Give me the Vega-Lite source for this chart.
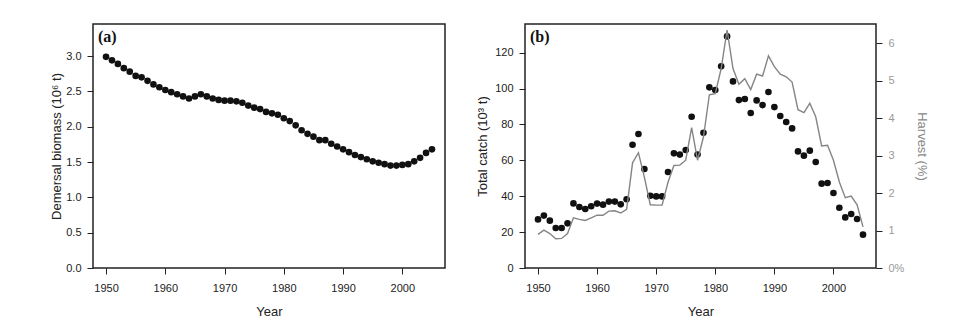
{
  "$schema": "https://vega.github.io/schema/vega-lite/v6.json",
  "padding": {"left": 49, "top": 23, "right": 5, "bottom": 5},
  "background": "white",
  "bounds": "flush",
  "spacing": 80,
  "datasets": {
    "biomass": [
      {"year":1950,"biomass":2.99},{"year":1951,"biomass":2.94},{"year":1952,"biomass":2.89},{"year":1953,"biomass":2.83},
      {"year":1954,"biomass":2.78},{"year":1955,"biomass":2.72},{"year":1956,"biomass":2.70},{"year":1957,"biomass":2.65},
      {"year":1958,"biomass":2.60},{"year":1959,"biomass":2.56},{"year":1960,"biomass":2.52},{"year":1961,"biomass":2.49},
      {"year":1962,"biomass":2.46},{"year":1963,"biomass":2.43},{"year":1964,"biomass":2.40},{"year":1965,"biomass":2.43},
      {"year":1966,"biomass":2.46},{"year":1967,"biomass":2.43},{"year":1968,"biomass":2.40},{"year":1969,"biomass":2.38},
      {"year":1970,"biomass":2.37},{"year":1971,"biomass":2.37},{"year":1972,"biomass":2.36},{"year":1973,"biomass":2.34},
      {"year":1974,"biomass":2.30},{"year":1975,"biomass":2.27},{"year":1976,"biomass":2.25},{"year":1977,"biomass":2.21},
      {"year":1978,"biomass":2.19},{"year":1979,"biomass":2.17},{"year":1980,"biomass":2.12},{"year":1981,"biomass":2.08},
      {"year":1982,"biomass":2.02},{"year":1983,"biomass":1.95},{"year":1984,"biomass":1.90},{"year":1985,"biomass":1.86},
      {"year":1986,"biomass":1.81},{"year":1987,"biomass":1.81},{"year":1988,"biomass":1.76},{"year":1989,"biomass":1.72},
      {"year":1990,"biomass":1.68},{"year":1991,"biomass":1.64},{"year":1992,"biomass":1.60},{"year":1993,"biomass":1.57},
      {"year":1994,"biomass":1.54},{"year":1995,"biomass":1.51},{"year":1996,"biomass":1.49},{"year":1997,"biomass":1.47},
      {"year":1998,"biomass":1.45},{"year":1999,"biomass":1.45},{"year":2000,"biomass":1.46},{"year":2001,"biomass":1.47},
      {"year":2002,"biomass":1.51},{"year":2003,"biomass":1.56},{"year":2004,"biomass":1.63},{"year":2005,"biomass":1.68}
    ],
    "catch": [
      {"year":1950,"catch":27.1,"harvest":0.90},{"year":1951,"catch":29.2,"harvest":1.01},{"year":1952,"catch":26.4,"harvest":0.92},
      {"year":1953,"catch":22.3,"harvest":0.78},{"year":1954,"catch":22.3,"harvest":0.79},{"year":1955,"catch":24.9,"harvest":0.92},
      {"year":1956,"catch":36.0,"harvest":1.34},{"year":1957,"catch":34.0,"harvest":1.30},{"year":1958,"catch":32.9,"harvest":1.27},
      {"year":1959,"catch":34.4,"harvest":1.34},{"year":1960,"catch":35.9,"harvest":1.41},{"year":1961,"catch":35.3,"harvest":1.41},
      {"year":1962,"catch":37.0,"harvest":1.52},{"year":1963,"catch":37.0,"harvest":1.53},{"year":1964,"catch":35.5,"harvest":1.47},
      {"year":1965,"catch":38.3,"harvest":1.57},{"year":1966,"catch":68.7,"harvest":2.81},{"year":1967,"catch":74.7,"harvest":3.08},
      {"year":1968,"catch":55.2,"harvest":2.43},{"year":1969,"catch":40.3,"harvest":1.69},{"year":1970,"catch":39.9,"harvest":1.68},
      {"year":1971,"catch":39.9,"harvest":1.68},{"year":1972,"catch":53.5,"harvest":2.29},{"year":1973,"catch":63.9,"harvest":2.74},
      {"year":1974,"catch":63.2,"harvest":2.75},{"year":1975,"catch":65.8,"harvest":2.88},{"year":1976,"catch":84.3,"harvest":3.75},
      {"year":1977,"catch":63.2,"harvest":2.88},{"year":1978,"catch":75.4,"harvest":3.50},{"year":1979,"catch":100.7,"harvest":4.63},
      {"year":1980,"catch":99.2,"harvest":4.66},{"year":1981,"catch":112.4,"harvest":5.33},{"year":1982,"catch":129.1,"harvest":6.36},
      {"year":1983,"catch":104.0,"harvest":5.33},{"year":1984,"catch":93.6,"harvest":4.91},{"year":1985,"catch":94.2,"harvest":5.06},
      {"year":1986,"catch":86.4,"harvest":4.77},{"year":1987,"catch":93.4,"harvest":5.18},{"year":1988,"catch":90.8,"harvest":5.13},
      {"year":1989,"catch":98.1,"harvest":5.67},{"year":1990,"catch":89.7,"harvest":5.38},{"year":1991,"catch":84.7,"harvest":5.18},
      {"year":1992,"catch":81.4,"harvest":5.11},{"year":1993,"catch":77.8,"harvest":4.97},{"year":1994,"catch":65.0,"harvest":4.23},
      {"year":1995,"catch":62.6,"harvest":4.15},{"year":1996,"catch":65.4,"harvest":4.40},{"year":1997,"catch":59.1,"harvest":4.04},
      {"year":1998,"catch":47.0,"harvest":3.26},{"year":1999,"catch":47.4,"harvest":3.28},{"year":2000,"catch":41.8,"harvest":2.88},
      {"year":2001,"catch":33.6,"harvest":2.30},{"year":2002,"catch":28.2,"harvest":1.88},{"year":2003,"catch":30.1,"harvest":1.92},
      {"year":2004,"catch":27.3,"harvest":1.69},{"year":2005,"catch":18.6,"harvest":1.10}
    ]
  },
  "config": {
    "font": "Liberation Sans",
    "view": {"stroke": "#222", "strokeWidth": 1.5},
    "axis": {
      "grid": false, "domain": false,
      "labelFont": "Liberation Sans", "labelFontSize": 11, "labelColor": "#222",
      "tickColor": "#222", "tickSize": 6, "tickWidth": 1,
      "titleFont": "Liberation Sans", "titleFontSize": 13, "titleFontWeight": "normal", "titleColor": "#222"
    },
    "axisX": {"labelPadding": 8, "titlePadding": 12},
    "axisY": {"labelPadding": 6},
    "title": {"font": "Liberation Serif", "fontSize": 16, "fontWeight": "bold", "color": "#111"}
  },
  "hconcat": [
    {
      "width": 352, "height": 244,
      "title": {"text": "(a)", "anchor": "start", "frame": "group", "offset": -34, "baseline": "alphabetic", "dx": 5},
      "data": {"name": "biomass"},
      "mark": {"type": "circle", "size": 44, "color": "#111", "opacity": 1},
      "encoding": {
        "x": {"field": "year", "type": "quantitative", "title": "Year",
              "scale": {"domain": [1947.8, 2007.2], "nice": false, "zero": false},
              "axis": {"values": [1950,1960,1970,1980,1990,2000], "format": "d"}},
        "y": {"field": "biomass", "type": "quantitative", "title": "Demersal biomass (10⁶ t)",
              "scale": {"domain": [0, 3.455], "nice": false},
              "axis": {"values": [0,0.5,1,1.5,2,2.5,3], "format": ".1f", "titlePadding": 2}}
      }
    },
    {
      "width": 351, "height": 244,
      "title": {"text": "(b)", "anchor": "start", "frame": "group", "offset": -34, "baseline": "alphabetic", "dx": 5},
      "data": {"name": "catch"},
      "layer": [
        {
          "mark": {"type": "circle", "size": 44, "color": "#111", "opacity": 1},
          "encoding": {
            "x": {"field": "year", "type": "quantitative", "title": "Year",
                  "scale": {"domain": [1947.8, 2007.2], "nice": false, "zero": false},
                  "axis": {"values": [1950,1960,1970,1980,1990,2000], "format": "d"}},
            "y": {"field": "catch", "type": "quantitative", "title": "Total catch (10³ t)",
                  "scale": {"domain": [0, 136], "nice": false},
                  "axis": {"values": [0,20,40,60,80,100,120], "titlePadding": 5}}
          }
        },
        {
          "mark": {"type": "line", "color": "#858585", "strokeWidth": 1.4},
          "encoding": {
            "x": {"field": "year", "type": "quantitative",
                  "scale": {"domain": [1947.8, 2007.2], "nice": false, "zero": false}},
            "y": {"field": "harvest", "type": "quantitative", "title": "Harvest (%)",
                  "scale": {"domain": [0, 6.52], "nice": false},
                  "axis": {"orient": "right", "values": [0,1,2,3,4,5,6],
                           "labelExpr": "datum.value == 0 ? '0%' : datum.label",
                           "labelColor": "#999", "titleColor": "#888", "titlePadding": 11}}
          }
        }
      ],
      "resolve": {"scale": {"y": "independent"}}
    }
  ]
}
